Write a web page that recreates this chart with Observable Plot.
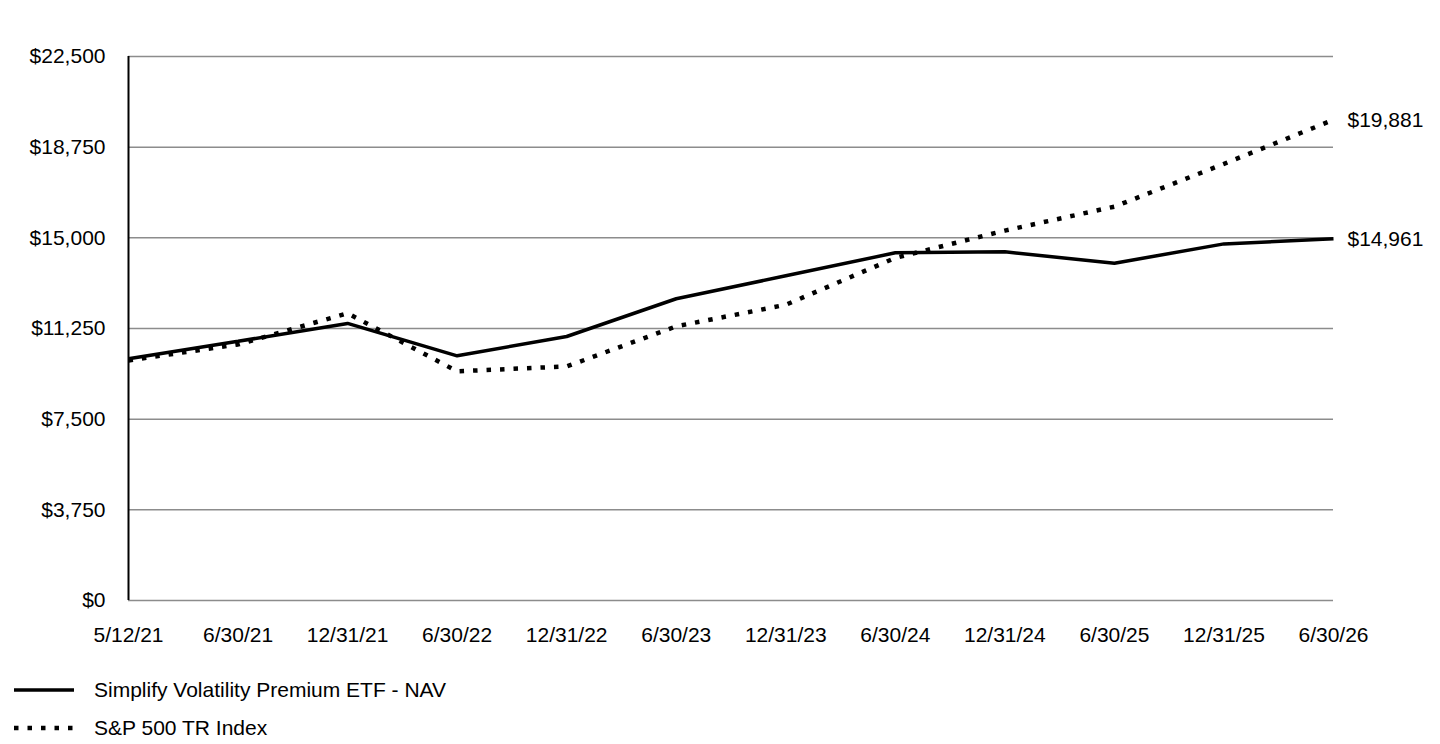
<!DOCTYPE html>
<html>
<head>
<meta charset="utf-8">
<script src="https://cdn.jsdelivr.net/npm/d3@7"></script>
<script src="https://cdn.jsdelivr.net/npm/@observablehq/plot@0.6"></script>
<style>
  html, body { margin: 0; padding: 0; background: #fff; overflow: hidden; }
  body { width: 1440px; height: 744px; font-family: "Liberation Sans", Arial, sans-serif; }
  #chart svg { display: block; }
  #legend { position: relative; height: 84px; }
  .item { position: absolute; left: 14px; display: flex; align-items: center; font-size: 21px; color: #000; }
  .item svg { margin-right: 20px; display: block; }
</style>
</head>
<body>
<div id="chart"></div>
<div id="legend"></div>
<script>
const dates = ["5/12/21","6/30/21","12/31/21","6/30/22","12/31/22","6/30/23","12/31/23","6/30/24","12/31/24","6/30/25","12/31/25","6/30/26"];
const navValues = [10000, 10720, 11460, 10120, 10920, 12480, 13430, 14380, 14420, 13950, 14750, 14961];
const spxValues = [9930, 10590, 11880, 9480, 9680, 11340, 12230, 14170, 15300, 16290, 18060, 19881];
const yTicks = [0, 3750, 7500, 11250, 15000, 18750, 22500];
const seriesNames = ["Simplify Volatility Premium ETF - NAV", "S&P 500 TR Index"];

const nav = dates.map((d, i) => ({date: d, value: navValues[i], series: seriesNames[0]}));
const spx = dates.map((d, i) => ({date: d, value: spxValues[i], series: seriesNames[1]}));
const ends = [nav[nav.length - 1], spx[spx.length - 1]];
const fmt = v => "$" + d3.format(",")(v);

const chart = Plot.plot({
  width: 1440,
  height: 660,
  marginLeft: 128,
  marginRight: 107,
  marginTop: 56,
  marginBottom: 60,
  style: {fontFamily: "Liberation Sans, Arial, sans-serif", fontSize: "21px", color: "#000", background: "#fff", maxWidth: "none"},
  x: {type: "point", domain: dates, padding: 0, round: false, label: null},
  y: {domain: [0, 22500], label: null},
  marks: [
    Plot.gridY(yTicks, {stroke: "#8c8c8c", strokeOpacity: 1, strokeWidth: 1.5}),
    Plot.axisY(yTicks, {tickSize: 0, tickPadding: 23, tickFormat: fmt, fontSize: 21, label: null}),
    Plot.axisX(dates, {tickSize: 0, tickPadding: 27, fontSize: 21, label: null}),
    Plot.ruleX([dates[0]], {y1: 0, y2: 22500, stroke: "#000", strokeWidth: 2}),
    Plot.ruleY([0], {x1: dates[0], x2: dates[dates.length - 1], stroke: "#000", strokeWidth: 2}),
    Plot.line(spx, {x: "date", y: "value", stroke: "#000", strokeWidth: 4.5, strokeDasharray: "4.5,9", strokeLinecap: "butt", strokeLinejoin: "miter"}),
    Plot.line(nav, {x: "date", y: "value", stroke: "#000", strokeWidth: 3.5, strokeLinecap: "butt", strokeLinejoin: "miter"}),
    Plot.text(ends, {x: "date", y: "value", text: d => fmt(d.value), textAnchor: "start", dx: 14, fontSize: 21, fill: "#000"})
  ]
});
document.getElementById("chart").appendChild(chart);

const legend = document.getElementById("legend");
const styles = [
  {dash: null, width: 3.5, top: 30},
  {dash: "4.5,9", width: 4.5, top: 68}
];
seriesNames.forEach((name, i) => {
  const s = styles[i];
  const div = document.createElement("div");
  div.className = "item";
  div.style.top = (s.top - 12) + "px";
  div.innerHTML = `<svg width="60" height="24"><line x1="0" x2="60" y1="12" y2="12" stroke="#000" stroke-width="${s.width}" ${s.dash ? `stroke-dasharray="${s.dash}"` : ""}/></svg><span>${name}</span>`;
  legend.appendChild(div);
});
</script>
</body>
</html>
